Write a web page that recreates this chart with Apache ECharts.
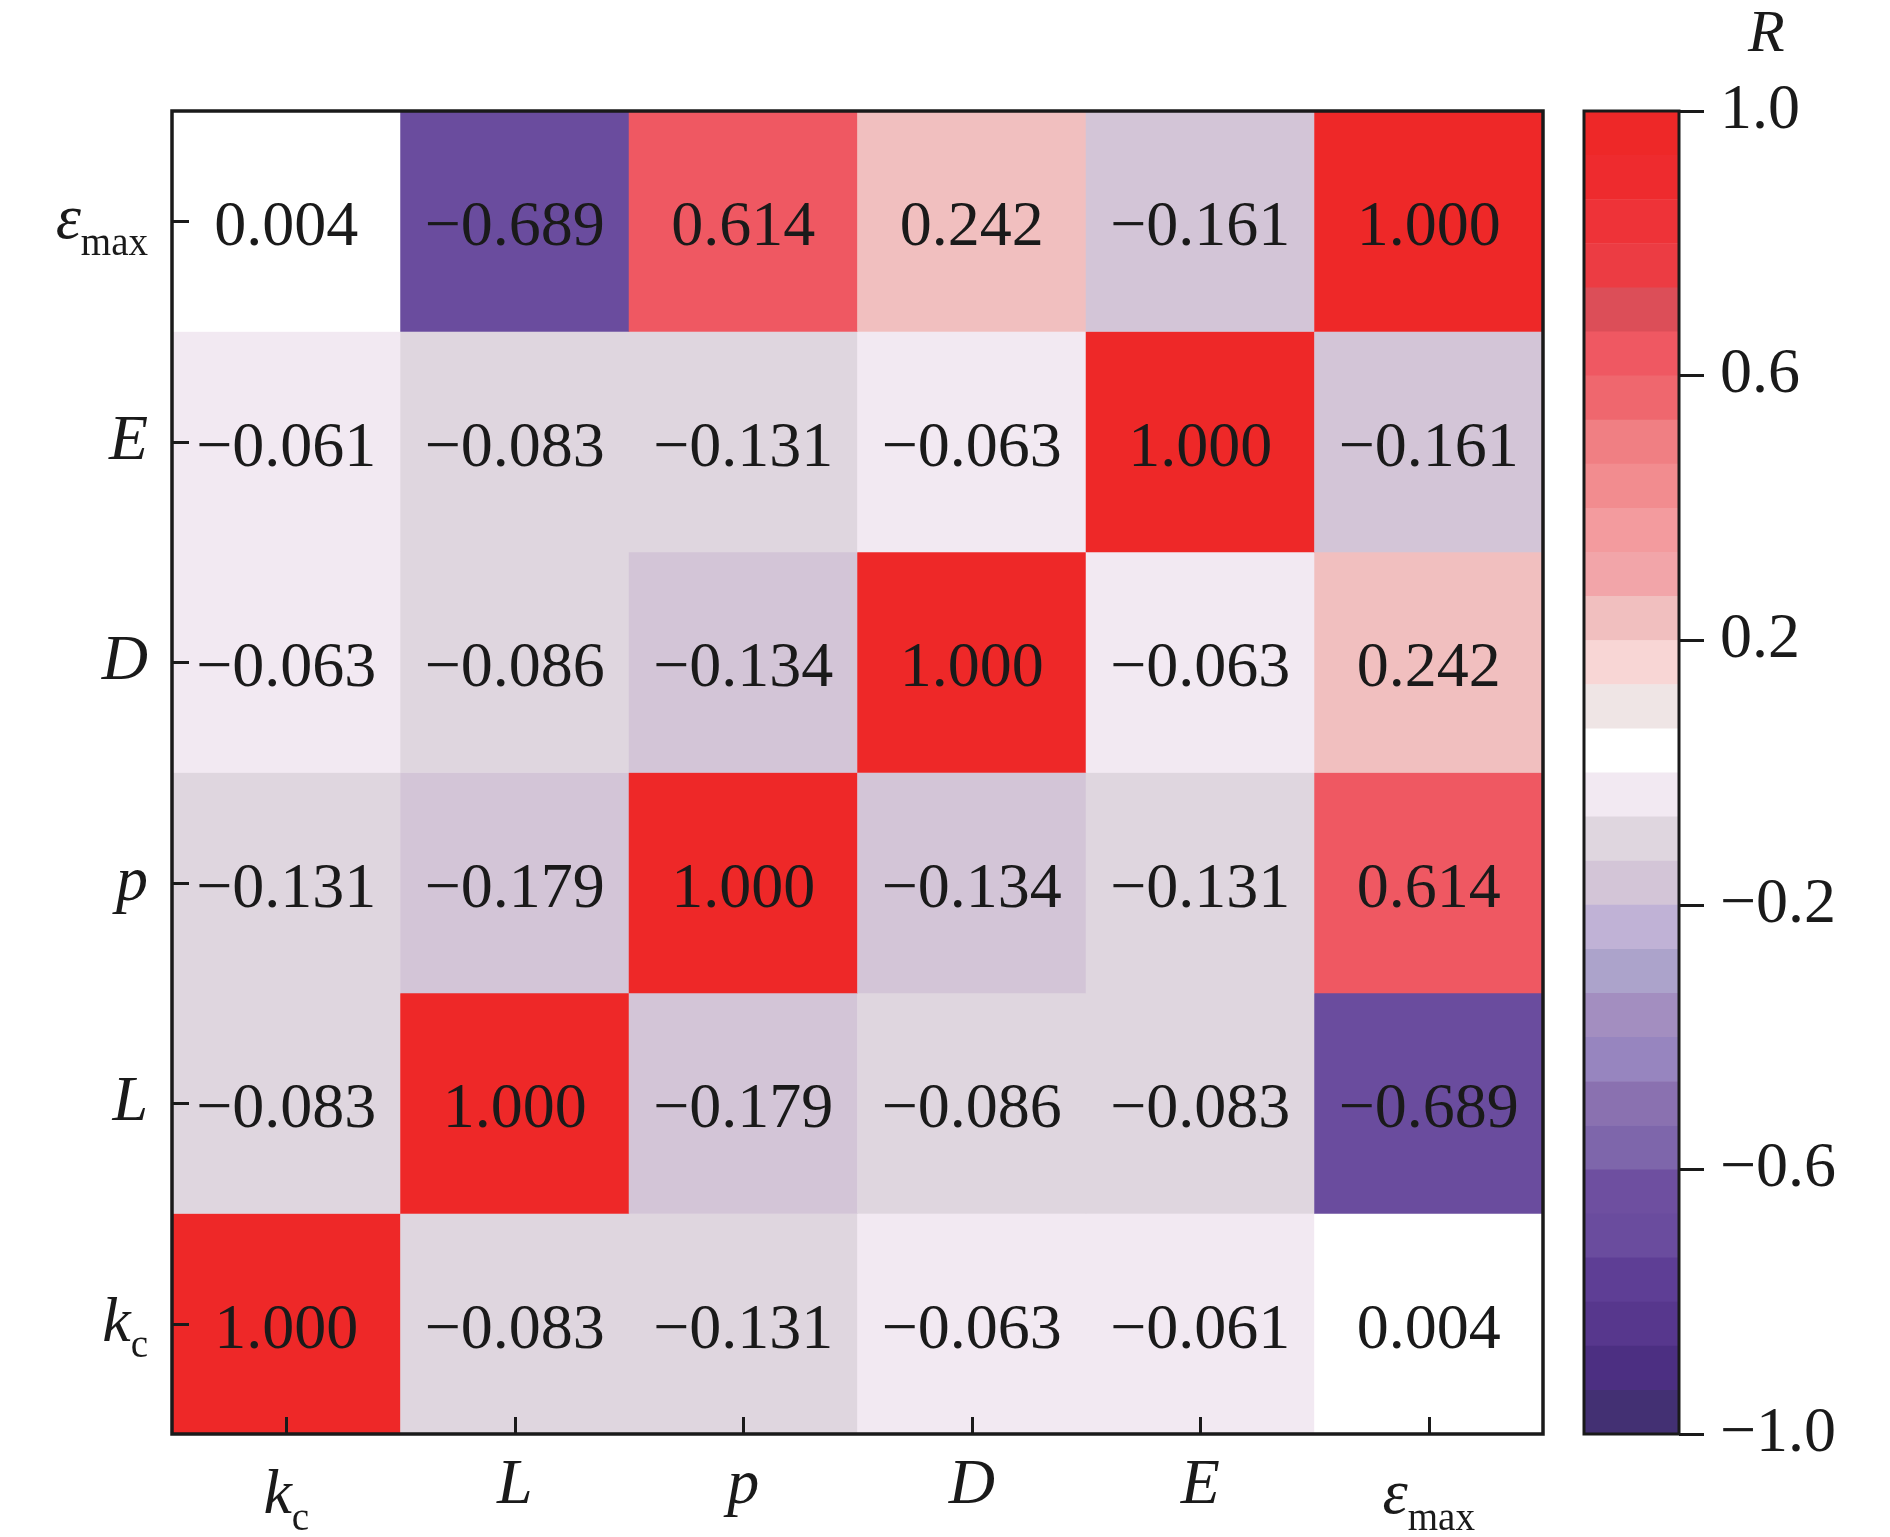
<!DOCTYPE html>
<html>
<head>
<meta charset="utf-8">
<script src="https://cdn.jsdelivr.net/npm/echarts@6/dist/echarts.min.js"></script>
<style>
  html, body { margin: 0; padding: 0; background: #fff; }
  #chart { width: 1890px; height: 1537px; }
</style>
</head>
<body>
<div id="chart"></div>
<script>
// variables, bottom to top on y, left to right on x
var categories = ['kc', 'L', 'p', 'D', 'E', 'emax'];
var categoryLabels = {
  kc: '{i|k}{s|c}',
  L: '{i|L}',
  p: '{i|p}',
  D: '{i|D}',
  E: '{i|E}',
  emax: '{i|ε}{s|max}'
};

// correlation rows, one per y category (bottom row first)
var rowKc   = [1.000, -0.083, -0.131, -0.063, -0.061, 0.004];
var rowL    = [-0.083, 1.000, -0.179, -0.086, -0.083, -0.689];
var rowP    = [-0.131, -0.179, 1.000, -0.134, -0.131, 0.614];
var rowD    = [-0.063, -0.086, -0.134, 1.000, -0.063, 0.242];
var rowE    = [-0.061, -0.083, -0.131, -0.063, 1.000, -0.161];
var rowEmax = [0.004, -0.689, 0.614, 0.242, -0.161, 1.000];
var rows = [rowKc, rowL, rowP, rowD, rowE, rowEmax];

// colour bar, 30 bands from R = 1.0 down to R = -1.0
var bandColors = [
  '#ee2828', '#ee2b2e', '#ee3338', '#ec3c43', '#dc4e58', '#ef5862',
  '#ef676e', '#f07f83', '#f28c8f', '#f39b9e', '#f2a5a9', '#f1bfbf',
  '#f8d6d5', '#efe5e5', '#ffffff', '#f2e9f2', '#dfd6df', '#d3c5d7',
  '#c0b2d6', '#aca3cb', '#a38ec0', '#9785bf', '#8a71b0', '#7e66ab',
  '#6e4fa0', '#6a4c9e', '#5e3e95', '#57378d', '#4c2f82', '#433073'
];

var chart = echarts.init(document.getElementById('chart'));

var heatData = [];
rows.forEach(function(row, yi) {
  row.forEach(function(v, xi) {
    heatData.push([xi, yi, v]);
  });
});

var nBands = bandColors.length;
var bands = [];
var pieces = [];
bandColors.forEach(function(c, k) {
  var hi = 1 - 2 * k / nBands;
  var lo = 1 - 2 * (k + 1) / nBands;
  bands.push([lo, hi, k]);
  var piece = { gte: lo, color: c };
  if (k === 0) piece.lte = hi; else piece.lt = hi;
  pieces.push(piece);
});

function fmt(v, d) {
  return (v < 0 ? '\u2212' : '') + Math.abs(v).toFixed(d);
}

var serif = '"Liberation Serif", "DejaVu Serif", serif';
var ink = '#1a1a1a';
var rich = {
  i: { fontFamily: serif, fontStyle: 'italic', fontSize: 64, color: ink, verticalAlign: 'middle' },
  s: { fontFamily: serif, fontSize: 39, color: ink, verticalAlign: 'middle', padding: [46, 0, 0, 0] }
};

var option = {
  backgroundColor: '#fff',
  animation: false,
  title: {
    text: 'R',
    left: 1743,
    top: 0,
    textStyle: { fontFamily: serif, fontStyle: 'italic', fontWeight: 'normal', fontSize: 60, color: ink }
  },
  grid: [
    { left: 172, top: 111, width: 1371, height: 1323, show: true, z: 10, outerBoundsMode: 'none',
      containLabel: false, backgroundColor: 'transparent', borderColor: ink, borderWidth: 3.5 },
    { left: 1584, top: 111, width: 95, height: 1323, show: true, z: 10, outerBoundsMode: 'none',
      containLabel: false, backgroundColor: 'transparent', borderColor: ink, borderWidth: 3 }
  ],
  xAxis: [
    {
      type: 'category', gridIndex: 0, data: categories, z: 10,
      axisLine: { show: false },
      axisTick: { show: true, inside: true, alignWithLabel: true, interval: 0, length: 17,
        lineStyle: { color: ink, width: 3 } },
      axisLabel: { interval: 0, margin: 20, formatter: function(v) { return categoryLabels[v]; }, rich: rich },
      splitLine: { show: false }
    },
    { type: 'value', gridIndex: 1, min: 0, max: 1, show: false }
  ],
  yAxis: [
    {
      type: 'category', gridIndex: 0, data: categories, z: 10,
      axisLine: { show: false },
      axisTick: { show: true, inside: true, alignWithLabel: true, interval: 0, length: 17,
        lineStyle: { color: ink, width: 3 } },
      axisLabel: { interval: 0, margin: 24, formatter: function(v) { return categoryLabels[v]; }, rich: rich },
      splitLine: { show: false }
    },
    {
      type: 'value', gridIndex: 1, min: -1, max: 1, interval: 0.4, position: 'right', z: 10,
      axisLine: { show: false, onZero: false },
      axisTick: { show: true, inside: false, length: 25, lineStyle: { color: ink, width: 3 } },
      axisLabel: {
        margin: 41, align: 'left', fontFamily: serif, fontSize: 64, color: ink,
        formatter: function(v) { return fmt(v, 1); }
      },
      splitLine: { show: false }
    }
  ],
  visualMap: {
    type: 'piecewise',
    show: false,
    seriesIndex: 0,
    dimension: 2,
    pieces: pieces
  },
  series: [
    {
      type: 'heatmap',
      xAxisIndex: 0,
      yAxisIndex: 0,
      data: heatData,
      label: {
        show: true,
        fontFamily: serif,
        fontSize: 64,
        color: ink,
        offset: [0, 7],
        formatter: function(p) { return fmt(p.value[2], 3); }
      },
      itemStyle: { borderWidth: 0 },
      emphasis: { disabled: true }
    },
    {
      type: 'custom',
      xAxisIndex: 1,
      yAxisIndex: 1,
      data: bands,
      encode: { y: [0, 1] },
      silent: true,
      renderItem: function(params, api) {
        var lo = api.value(0), hi = api.value(1);
        var p1 = api.coord([0, hi]);
        var p2 = api.coord([1, lo]);
        return {
          type: 'rect',
          shape: { x: p1[0], y: p1[1], width: p2[0] - p1[0], height: p2[1] - p1[1] + 0.5 },
          style: { fill: bandColors[api.value(2)] }
        };
      }
    }
  ]
};

chart.setOption(option);
</script>
</body>
</html>
